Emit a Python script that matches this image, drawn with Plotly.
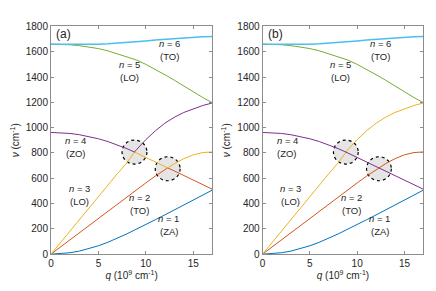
import plotly.graph_objects as go

# wave vector sample points (10^9 cm^-1), incl. the two crossing points
q = [0, 1, 2, 3, 4, 5, 6, 7, 8, 8.8, 9, 10, 11, 12, 12.3, 13, 14, 15, 16, 17]

# phonon branches (panel b, unsorted), frequency in cm^-1
ZA = [0, 3, 11, 24, 42, 66, 94, 126, 160, 190, 198, 234, 272, 310, 322, 348, 385, 425, 466, 506]
TO = [0, 57, 114, 171, 228, 284, 340, 396, 452, 497, 508, 563, 617, 668, 682, 715, 755, 785, 803, 808]
LO = [0, 92, 184, 276, 368, 458, 548, 636, 722, 807, 825, 905, 975, 1035, 1050, 1082, 1120, 1150, 1175, 1195]
ZO = [962, 960, 954, 944, 930, 912, 890, 864, 834, 807, 800, 766, 730, 694, 682, 658, 622, 586, 550, 513]
LO2 = [1660, 1659, 1655, 1648, 1638, 1625, 1607, 1585, 1560, 1540, 1535, 1500, 1462, 1420, 1406, 1375, 1328, 1282, 1238, 1197]
TO2 = [1660, 1659, 1658, 1657, 1658, 1660, 1663, 1667, 1672, 1677, 1678, 1685, 1692, 1698, 1700, 1705, 1711, 1716, 1719, 1721]

branches_b = [ZA, TO, LO, ZO, LO2, TO2]
colors = ["#0072BD", "#D95319", "#EDB120", "#7E2F8E", "#77AC30", "#4DBEEE"]
widths = [1.0, 1.0, 1.0, 1.0, 1.0, 1.5]

# panel a: bands ordered by frequency (n = 1..6)
cols = list(zip(*branches_b))
branches_a = [[sorted(c)[k] for c in cols] for k in range(6)]

label_n = ["<i>n</i> = 1", "<i>n</i> = 2", "<i>n</i> = 3",
           "<i>n</i> = 4", "<i>n</i> = 5", "<i>n</i> = 6"]
label_mode = ["(ZA)", "(TO)", "(LO)", "(ZO)", "(LO)", "(TO)"]
label_q = [12.4, 9.35, 3.0, 2.6, 8.25, 12.5]
label_v = [229, 397, 466, 847, 1447, 1610]

circle_q = [8.8, 12.3]
circle_v = [807, 675]

FONT = "Liberation Sans, Arial, sans-serif"
TXT = "#262626"

fig = go.Figure()
axes = [("x", "y", branches_a), ("x2", "y2", branches_b)]
for xa, ya, br in axes:
    for k in range(6):
        fig.add_trace(go.Scatter(x=q, y=br[k], mode="lines", xaxis=xa, yaxis=ya,
                                 line=dict(color=colors[k], width=widths[k]),
                                 showlegend=False, hoverinfo="skip"))
    for k in range(6):
        fig.add_annotation(x=label_q[k], y=label_v[k], xref=xa, yref=ya, text=label_n[k],
                           showarrow=False, yanchor="bottom", yshift=-1,
                           font=dict(size=9.5, color=TXT, family=FONT))
        fig.add_annotation(x=label_q[k], y=label_v[k], xref=xa, yref=ya, text=label_mode[k],
                           showarrow=False, yanchor="top", yshift=1,
                           font=dict(size=9.5, color=TXT, family=FONT))
    for cq, cv in zip(circle_q, circle_v):
        fig.add_shape(type="circle", xref=xa, yref=ya, x0=cq - 1.31, x1=cq + 1.31,
                      y0=cv - 95, y1=cv + 95, layer="below",
                      line=dict(color="black", width=1.2, dash="dot"),
                      fillcolor="rgba(228,228,228,0.95)")

fig.add_annotation(x=0.35, y=1740, xref="x", yref="y", text="(a)", showarrow=False,
                   xanchor="left", font=dict(size=12, color=TXT, family=FONT))
fig.add_annotation(x=0.35, y=1740, xref="x2", yref="y2", text="(b)", showarrow=False,
                   xanchor="left", font=dict(size=12, color=TXT, family=FONT))

ax_common = dict(showline=True, linecolor="#8c8c8c", linewidth=1, mirror="ticks",
                 ticks="inside", ticklen=3, tickcolor="#8c8c8c", showgrid=False,
                 zeroline=False, tickfont=dict(size=10, color=TXT, family=FONT))
xa_common = dict(ax_common, range=[0, 17], tickvals=[0, 5, 10, 15],
                 title=dict(text="<i>q</i> (10<sup>9</sup> cm<sup>-1</sup>)",
                            font=dict(size=10, color=TXT, family=FONT), standoff=2))
ya_common = dict(ax_common, range=[0, 1800], tickvals=list(range(0, 1801, 200)),
                 title=dict(text="<i>ν</i> (cm<sup>-1</sup>)",
                            font=dict(size=10, color=TXT, family=FONT), standoff=4))

fig.update_layout(
    width=436, height=291, margin=dict(l=0, r=0, t=0, b=0),
    paper_bgcolor="white", plot_bgcolor="white",
    font=dict(family=FONT, color=TXT),
    xaxis=dict(xa_common, domain=[0.1108, 0.4833], anchor="y"),
    yaxis=dict(ya_common, domain=[0.1134, 0.9237], anchor="x"),
    xaxis2=dict(xa_common, domain=[0.5995, 0.9709], anchor="y2"),
    yaxis2=dict(ya_common, domain=[0.1134, 0.9237], anchor="x2"),
)

fig.write_html("out.html", config={"displayModeBar": False},
               post_script="document.body.style.margin='0px';")
